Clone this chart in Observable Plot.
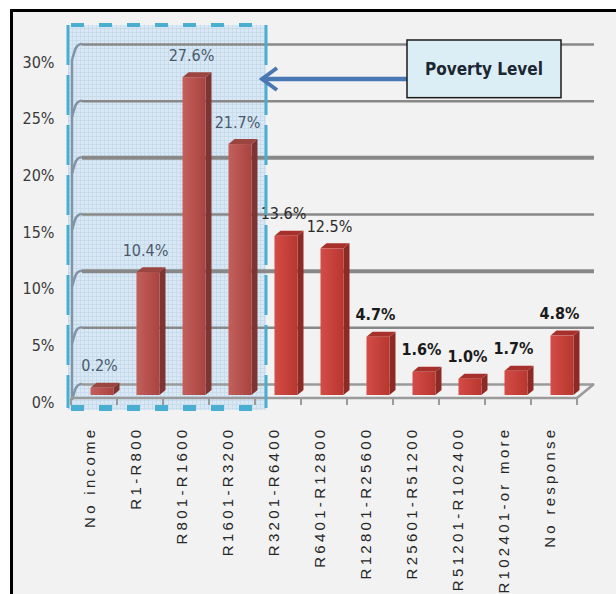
<!DOCTYPE html>
<html><head><meta charset="utf-8">
<script src="https://cdn.jsdelivr.net/npm/d3@7"></script>
<script src="https://cdn.jsdelivr.net/npm/@observablehq/plot@0.6"></script>
<style>
html,body{margin:0;padding:0;background:#fff;overflow:hidden;}
#chart{position:absolute;left:0;top:0;width:616px;height:594px;overflow:hidden;}
</style></head><body>
<div id="chart"></div>
<script>
// ---- data ----
const categories = ["No income","R1-R800","R801-R1600","R1601-R3200","R3201-R6400","R6401-R12800","R12801-R25600","R25601-R51200","R51201-R102400","R102401-or more","No response"];
const values = [0.2,10.4,27.6,21.7,13.6,12.5,4.7,1.6,1.0,1.7,4.8];
const valueLabels = ["0.2%","10.4%","27.6%","21.7%","13.6%","12.5%","4.7%","1.6%","1.0%","1.7%","4.8%"];
const yTicks = [0,5,10,15,20,25,30];
const yTickLabels = ["0%","5%","10%","15%","20%","25%","30%"];
const povertyCategories = ["No income","R1-R800","R801-R1600","R1601-R3200"];
const boldCategories = ["R51201-R102400","R102401-or more","No response"];
const boldValueCats = ["R12801-R25600","R25601-R51200","R51201-R102400","R102401-or more","No response"];
const annotationText = "Poverty Level";
const arrowValue = 27;

const data = categories.map((c,i)=>({cat:c, v:values[i], label:valueLabels[i], poverty: povertyCategories.includes(c)}));

const BAR_INSET = 11.5, BAR_DX = 8, DEPTH_X = 6, DEPTH_Y = 5;
const CONDENSED = "'DejaVu Sans Condensed','DejaVu Sans',sans-serif";

function bandInfo(scales, dimensions){
  const x = scales.x;
  const bw = x.bandwidth ? x.bandwidth() : (dimensions.width - dimensions.marginLeft - dimensions.marginRight)/categories.length;
  return {x, bw};
}

// page frame: light grey panel with black left and top edges
function frameMark(index, scales, values, dimensions){
  const g = d3.create("svg:g");
  g.append("rect").attr("x",0).attr("y",0).attr("width",dimensions.width).attr("height",dimensions.height).attr("fill","#ffffff");
  g.append("rect").attr("x",11).attr("y",10).attr("width",dimensions.width).attr("height",dimensions.height).attr("fill","#f2f2f2");
  g.append("path").attr("d",`M11.5,${dimensions.height+5} V10.5 H${dimensions.width+5}`).attr("fill","none").attr("stroke","#000").attr("stroke-width",3);
  return g.node();
}

// shaded "poverty" region (fill + pattern)
function shadeMark(index, scales, values, dimensions){
  const {x, bw} = bandInfo(scales, dimensions);
  const y = scales.y;
  const g = d3.create("svg:g");
  const defs = g.append("defs");
  const pat = defs.append("pattern").attr("id","gridpat").attr("width",4).attr("height",4).attr("patternUnits","userSpaceOnUse");
  pat.append("rect").attr("width",4).attr("height",4).attr("fill","#d9e8f4");
  pat.append("path").attr("d","M0 0.5H4M0.5 0V4").attr("stroke","#c4d9ea").attr("stroke-width",0.8);
  const gr1 = defs.append("linearGradient").attr("id","frontPov").attr("x1",0).attr("x2",1).attr("y1",0).attr("y2",0);
  gr1.append("stop").attr("offset","0%").attr("stop-color","#c4605b");
  gr1.append("stop").attr("offset","100%").attr("stop-color","#a8433f");
  const gr2 = defs.append("linearGradient").attr("id","frontOut").attr("x1",0).attr("x2",1).attr("y1",0).attr("y2",0);
  gr2.append("stop").attr("offset","0%").attr("stop-color","#d44c47");
  gr2.append("stop").attr("offset","100%").attr("stop-color","#b7372f");
  const x0 = x(povertyCategories[0]) - 3;
  const x1 = x(povertyCategories[povertyCategories.length-1]) + bw + 11;
  const yTop = y(30) - 19, yBot = y(0) + 26;
  g.append("rect").attr("x",x0).attr("y",yTop).attr("width",x1-x0).attr("height",yBot-yTop).attr("fill","url(#gridpat)");
  return g.node();
}

// left wall, floor edges and ticks
function wallMark(index, scales, values, dimensions){
  const {x, bw} = bandInfo(scales, dimensions);
  const y = scales.y;
  const g = d3.create("svg:g").attr("fill","none");
  const left = x(categories[0]);
  const right = x(categories[categories.length-1]) + bw;
  const back = left + 11;
  g.append("line").attr("x1",left+1).attr("x2",left+1).attr("y1",y(30)+16).attr("y2",y(0)+15).attr("stroke","#7f96a8").attr("stroke-width",2.5);
  yTicks.forEach(t=>{
    g.append("path").attr("d",`M${left+1},${y(t)+16} L${left+4},${y(t)+6} Q${left+6},${y(t)} ${back},${y(t)}`).attr("stroke","#8094a6").attr("stroke-width",2.5);
  });
  g.append("line").attr("x1",left).attr("x2",right).attr("y1",y(0)+14).attr("y2",y(0)+14).attr("stroke","#9a9a9a").attr("stroke-width",2.5);
  g.append("line").attr("x1",right).attr("x2",right+17).attr("y1",y(0)+14).attr("y2",y(0)).attr("stroke","#9a9a9a").attr("stroke-width",2.5);
  categories.concat(["__end"]).forEach((c,i)=>{
    const xx = i < categories.length ? x(c) : right;
    g.append("line").attr("x1",xx).attr("x2",xx).attr("y1",y(0)+14).attr("y2",y(0)+21).attr("stroke","#9a9a9a").attr("stroke-width",2);
  });
  return g.node();
}

// 3D side and top faces of each bar
function barSides(index, scales, values, dimensions){
  const {x, bw} = bandInfo(scales, dimensions);
  const y = scales.y;
  const g = d3.create("svg:g");
  data.forEach(d=>{
    const xl = x(d.cat) + BAR_INSET + BAR_DX;
    const xr = x(d.cat) + bw - BAR_INSET + BAR_DX;
    const top = y(d.v) + 6, bot = y(0) + 11;
    g.append("path").attr("d",`M${xr},${top} L${xr+DEPTH_X},${top-DEPTH_Y} L${xr+DEPTH_X},${bot-DEPTH_Y} L${xr},${bot} Z`)
      .attr("fill", d.poverty ? "#7e3431" : "#8e2a25");
    g.append("path").attr("d",`M${xl},${top} L${xl+DEPTH_X},${top-DEPTH_Y} L${xr+DEPTH_X},${top-DEPTH_Y} L${xr},${top} Z`)
      .attr("fill", d.poverty ? "#9c4440" : "#a8302b");
  });
  return g.node();
}

// dashed border of the poverty region
function dashedBorder(index, scales, values, dimensions){
  const {x, bw} = bandInfo(scales, dimensions);
  const y = scales.y;
  const g = d3.create("svg:g").attr("fill","none").attr("stroke","#4aaed0");
  const x0 = x(povertyCategories[0]) - 3;
  const x1 = x(povertyCategories[povertyCategories.length-1]) + bw + 11;
  const yTop = y(30) - 19, yBot = y(0) + 24;
  g.append("line").attr("x1",x0).attr("x2",x1).attr("y1",yTop).attr("y2",yTop).attr("stroke-width",4).attr("stroke-dasharray","13,15").attr("stroke-dashoffset",-3);
  g.append("line").attr("x1",x0).attr("x2",x1).attr("y1",yBot).attr("y2",yBot).attr("stroke-width",6).attr("stroke-dasharray","13,15").attr("stroke-dashoffset",-3);
  g.append("line").attr("x1",x0).attr("x2",x0).attr("y1",yTop).attr("y2",yBot).attr("stroke-width",3).attr("stroke-dasharray","40,10");
  g.append("line").attr("x1",x1).attr("x2",x1).attr("y1",yTop).attr("y2",yBot).attr("stroke-width",3).attr("stroke-dasharray","40,10");
  return g.node();
}

// annotation box + arrow
function annotation(index, scales, values, dimensions){
  const {x, bw} = bandInfo(scales, dimensions);
  const y = scales.y;
  const g = d3.create("svg:g");
  const bx0 = x("R25601-R51200") + 14;
  const bx1 = x("No response") + 30;
  const by0 = y(30) - 4, by1 = y(25) - 3;
  const tipX = x(povertyCategories[povertyCategories.length-1]) + bw + 7;
  const ay = y(arrowValue) + 1;
  g.append("line").attr("x1",bx0).attr("x2",tipX+3).attr("y1",ay).attr("y2",ay).attr("stroke","#4a78b4").attr("stroke-width",4.5);
  g.append("path").attr("d",`M${tipX+15},${ay-11} L${tipX},${ay} L${tipX+15},${ay+11}`).attr("fill","none").attr("stroke","#4a78b4").attr("stroke-width",4).attr("stroke-linejoin","miter");
  g.append("rect").attr("x",bx0).attr("y",by0).attr("width",bx1-bx0).attr("height",by1-by0).attr("fill","#dceef5").attr("stroke","#1a1a1a").attr("stroke-width",1.5);
  g.append("text").attr("x",(bx0+bx1)/2).attr("y",(by0+by1)/2).attr("dy","0.35em").attr("text-anchor","middle")
    .attr("font-family",CONDENSED).attr("font-weight","bold").attr("font-size",17).attr("fill","#1b2733").text(annotationText);
  return g.node();
}

const chart = Plot.plot({
  width: 616, height: 594,
  marginLeft: 71, marginRight: 39, marginTop: 44, marginBottom: 210,
  style: {background: "#ffffff", overflow: "hidden"},
  x: {type: "band", domain: categories, padding: 0, axis: null},
  y: {type: "linear", domain: [0, 30], axis: null},
  marks: [
    frameMark,
    shadeMark,
    Plot.ruleY(yTicks, {y: d=>d, dx: 11, insetRight: -6,
      stroke: d => d===0 ? "#9a9a9a" : "#888888",
      strokeWidth: d => (d===10 || d===20) ? 4 : 2.5}),
    wallMark,
    Plot.text(yTicks, {y: d=>d, text: (d,i)=>yTickLabels[i], frameAnchor: "left", textAnchor: "end", dx: -17, dy: 18,
      fontFamily: CONDENSED, fontSize: 16, fill: "#3a3a3a"}),
    barSides,
    Plot.barY(data, {x: "cat", y: "v", dx: BAR_DX, dy: 6, insetLeft: BAR_INSET, insetRight: BAR_INSET, insetBottom: -5,
      fill: d => d.poverty ? "url(#frontPov)" : "url(#frontOut)"}),
    Plot.text(data.filter(d=>!boldValueCats.includes(d.cat)), {x: "cat", y: "v", text: "label", dx: 5, dy: -16,
      fontFamily: CONDENSED, fontSize: 16,
      fill: d => d.poverty ? "#4a5a6c" : "#2a2a2a"}),
    Plot.text(data.filter(d=>boldValueCats.includes(d.cat)), {x: "cat", y: "v", text: "label", dx: 5, dy: -16,
      fontFamily: CONDENSED, fontSize: 16, fontWeight: "bold", fill: "#1a1a1a"}),
    Plot.text(categories, {x: d=>d, text: d=>d, frameAnchor: "bottom", rotate: -90, textAnchor: "end", dy: 42,
      fontFamily: "'Liberation Sans',Arial,sans-serif", fontSize: 15, fill: "#262626",
      fontWeight: d => boldCategories.includes(d) ? "bold" : "normal"}),
    dashedBorder,
    annotation
  ]
});
chart.querySelectorAll("text").forEach(t=>{ const tr = t.getAttribute("transform"); if (tr && tr.includes("rotate")) t.style.letterSpacing = "3.3px"; });
document.getElementById("chart").appendChild(chart);
</script>
</body></html>
